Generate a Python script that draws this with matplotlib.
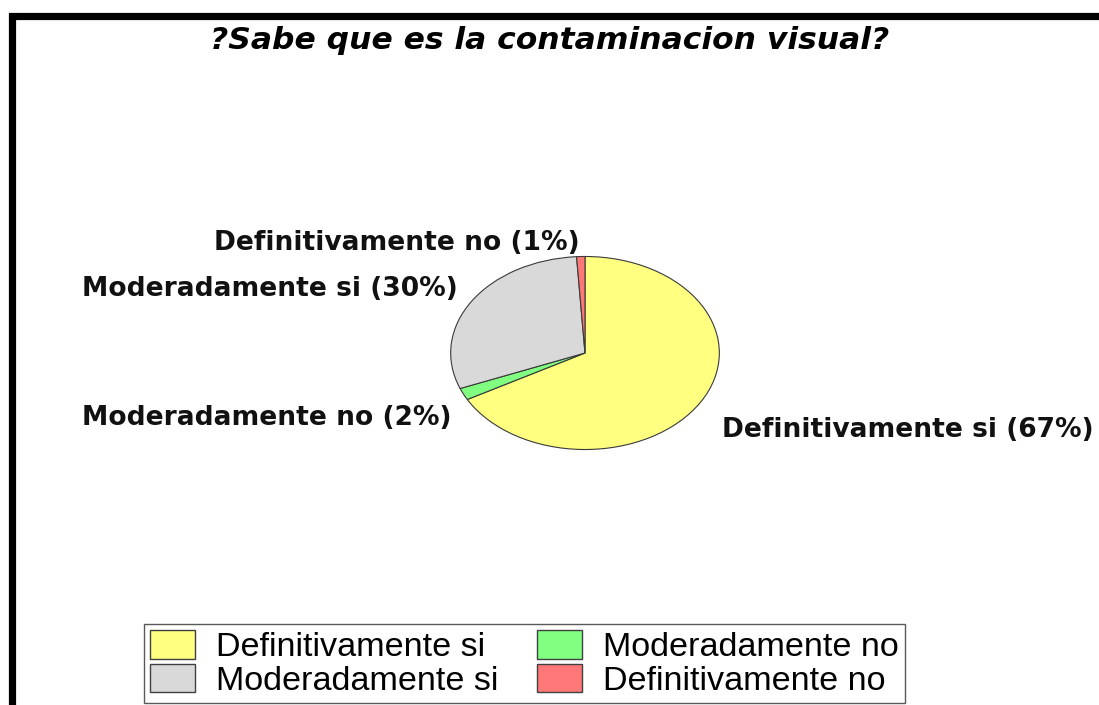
import matplotlib
matplotlib.use("Agg")
import matplotlib.pyplot as plt
from matplotlib.patches import Rectangle, Patch

# ---- data ----
title = "?Sabe que es la contaminacion visual?"
categories = ["Definitivamente si", "Moderadamente no", "Moderadamente si", "Definitivamente no"]
values = [67, 2, 30, 1]
colors = ["#FFFF80", "#80FF80", "#D9D9D9", "#FF7878"]
legend_order = ["Definitivamente si", "Moderadamente si", "Moderadamente no", "Definitivamente no"]

W, H = 1099, 705
fig = plt.figure(figsize=(W / 100, H / 100), dpi=100)
fig.patch.set_facecolor("white")

def fx(px):
    return px / W

def fy(py):
    return 1 - py / H

# outer frame (cut off at right and bottom)
fig.patches.append(Rectangle((fx(12), fy(15.5) - 2), 2, 2, transform=fig.transFigure,
                             fill=False, edgecolor="black", linewidth=5.2, zorder=0))

# title
fig.text(fx(550), fy(49), title, ha="center", va="baseline", fontsize=22.6,
         fontweight="bold", fontstyle="italic", family="DejaVu Sans")

# pie
cx, cy, rx, ry = 585, 353, 135, 97
ax = fig.add_axes([fx(cx - rx), fy(cy + ry), 2 * rx / W, 2 * ry / H])
wedges, _ = ax.pie(values, colors=colors, startangle=90, counterclock=False, radius=1,
                   wedgeprops=dict(edgecolor="#3a3a3a", linewidth=0.8))
ax.set_aspect("auto")
ax.set_xlim(-1.005, 1.005)
ax.set_ylim(-1.005, 1.005)
ax.axis("off")

# slice labels
label_pos = {
    "Definitivamente no": (580, 250, "right"),
    "Moderadamente si": (458, 296, "right"),
    "Moderadamente no": (452, 425, "right"),
    "Definitivamente si": (722, 437, "left"),
}
for cat, v in zip(categories, values):
    x, y, ha = label_pos[cat]
    fig.text(fx(x), fy(y), f"{cat} ({v}%)", ha=ha, va="baseline", fontsize=19.1,
             fontweight="bold", family="DejaVu Sans", color="#111111")

# legend
handles = [Patch(facecolor=colors[categories.index(c)], edgecolor="#404040", linewidth=1.0)
           for c in legend_order]
leg = fig.legend(handles, legend_order, loc="upper left",
                 bbox_to_anchor=(fx(144), fy(624)), bbox_transform=fig.transFigure,
                 ncol=2, prop=dict(family="Liberation Sans", size=24.6),
                 handlelength=1.3, handleheight=0.9, handletextpad=0.62,
                 columnspacing=1.15, labelspacing=0.02, borderpad=0.18,
                 borderaxespad=0, fancybox=False, frameon=True)
leg.get_frame().set_edgecolor("#303030")
leg.get_frame().set_linewidth(1.0)

fig.savefig("out.png", dpi=100)
